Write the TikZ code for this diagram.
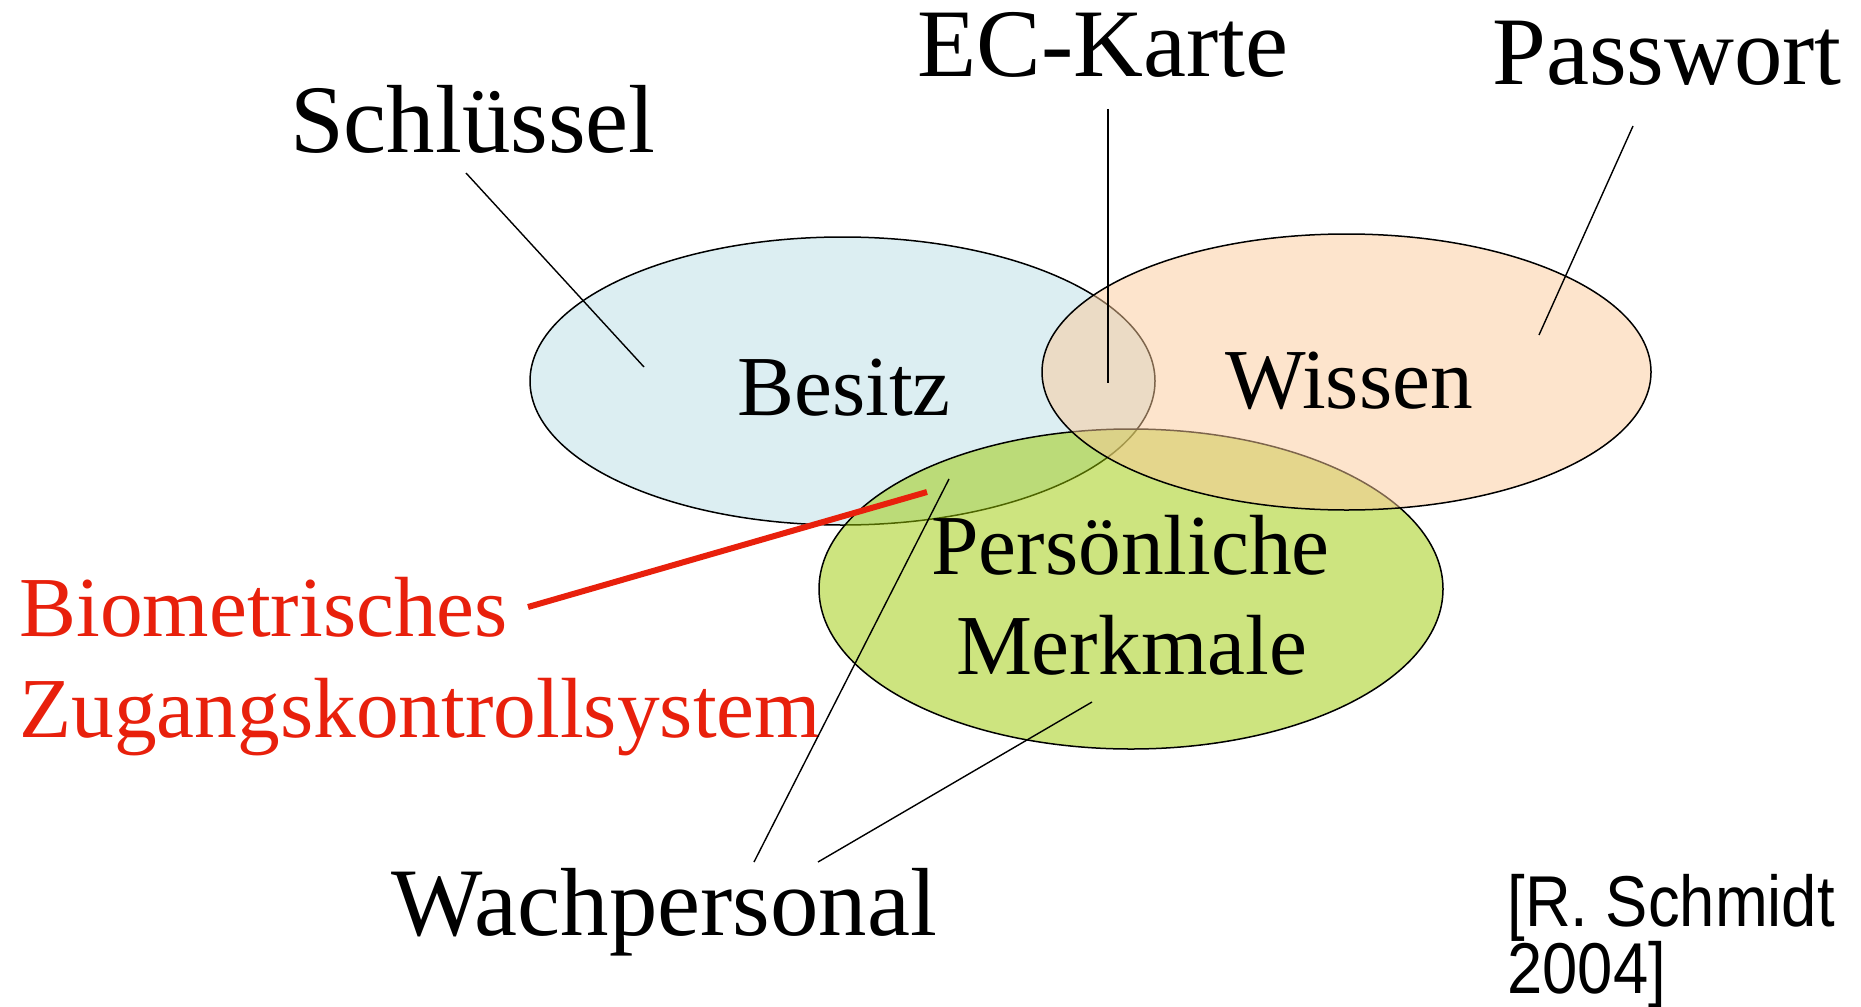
\documentclass[tikz,border=0pt]{standalone}
\usepackage{fontspec}
\setmainfont{Liberation Serif}
\newfontfamily\refsans[FakeStretch=0.88]{Liberation Sans}
\usetikzlibrary{shapes.geometric}

\definecolor{besitzfill}{RGB}{220,238,242}
\definecolor{wissenfill}{RGB}{251,202,153}
\definecolor{merkmalfill}{RGB}{155,201,0}
\definecolor{biored}{RGB}{232,32,12}

\begin{document}
\begin{tikzpicture}[x=0.5pt, y=-0.5pt,
  area/.style={ellipse, draw=black, line width=0.75pt, inner sep=0pt, outer sep=0pt},
  seethrough/.style={fill opacity=0.5},
  outerlabel/.style={font=\fontsize{48.4pt}{58pt}\selectfont, inner sep=0pt, anchor=base},
  innerlabel/.style={font=\fontsize{42.7pt}{50pt}\selectfont, inner sep=0pt, anchor=base},
  redlabel/.style={innerlabel, anchor=base west, text=biored},
  reflabel/.style={font=\refsans\fontsize{36pt}{40pt}\selectfont, inner sep=0pt, anchor=base west},
  leader/.style={draw=black, line width=0.7pt},
  redleader/.style={draw=biored, line width=3pt},
]
\useasboundingbox (0,0) rectangle (1861,1006);

% the three overlapping areas
\node[area, fill=besitzfill, minimum width=312.5pt, minimum height=144pt] (besitz) at (842.5,381) {};
\node[area, seethrough, fill=merkmalfill, minimum width=312pt, minimum height=160pt] (merkmal) at (1131,589) {};
\node[area, seethrough, fill=wissenfill, minimum width=304.5pt, minimum height=138pt] (wissen) at (1346.5,372) {};

% labels inside the areas
\node[innerlabel] (besitzlbl) at (844,415) {Besitz};
\node[innerlabel] (wissenlbl) at (1349,408) {Wissen};
\node[innerlabel] (perslbl) at (1130.5,574) {Persönliche};
\node[innerlabel] (merklbl) at (1131.5,674) {Merkmale};

% example labels around the areas
\node[outerlabel] (schl) at (473,152) {Schlüssel};
\node[outerlabel] (ec) at (1103,76) {EC-Karte};
\node[outerlabel] (pw) at (1667,84) {Passwort};
\node[outerlabel] (wach) at (664,935) {Wachpersonal};

\node[redlabel] (bio) at (19,636) {Biometrisches};
\node[redlabel] (zug) at (19,737) {Zugangskontrollsystem};

\node[reflabel] (ref1) at (1507,926) {[R. Schmidt};
\node[reflabel] (ref2) at (1507,993) {2004]};

% leader line end points
\coordinate (schlA) at (466,173);
\coordinate (schlB) at (644,367);
\coordinate (ecA) at (1108,109);
\coordinate (ecB) at (1108,383);
\coordinate (pwA) at (1633,126);
\coordinate (pwB) at (1539,335);
\coordinate (wachA) at (754,862);
\coordinate (wachB) at (949,479);
\coordinate (wachC) at (818,862);
\coordinate (wachD) at (1092,702);
\coordinate (bioA) at (528,607);
\coordinate (bioB) at (927,492);

\draw[leader] (schlA) -- (schlB);
\draw[leader] (ecA) -- (ecB);
\draw[leader] (pwA) -- (pwB);
\draw[leader] (wachA) -- (wachB);
\draw[leader] (wachC) -- (wachD);
\draw[redleader] (bioA) -- (bioB);
\end{tikzpicture}
\end{document}
